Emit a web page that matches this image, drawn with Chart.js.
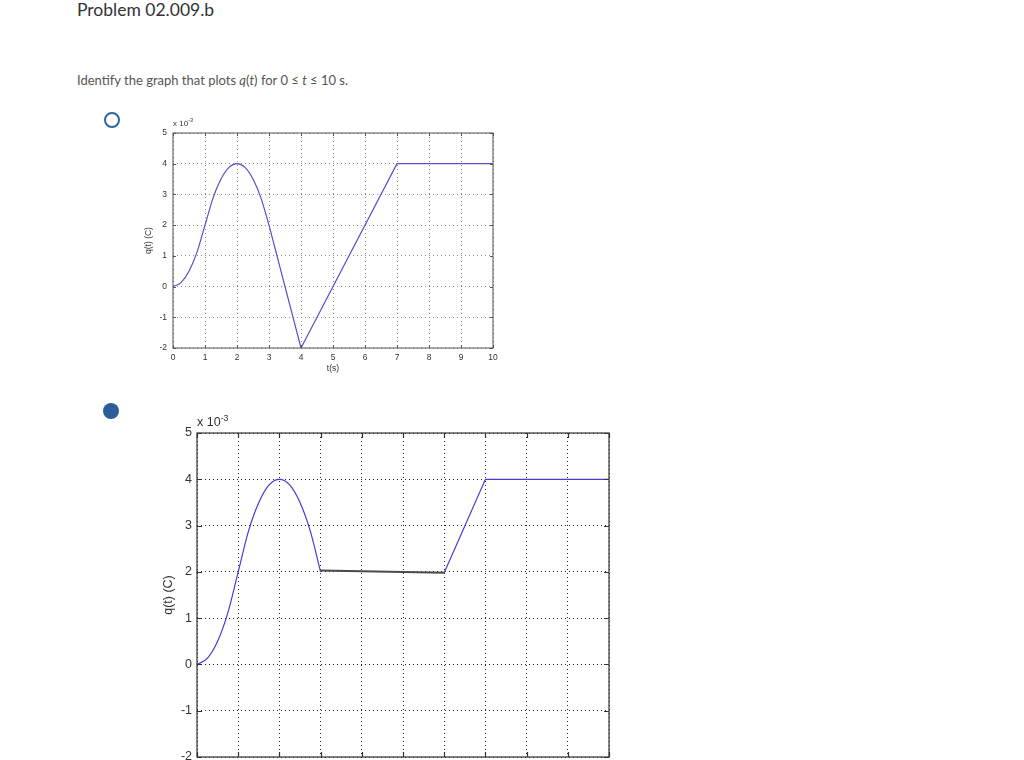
<!DOCTYPE html>
<html>
<head>
<meta charset="utf-8">
<script src="https://cdn.jsdelivr.net/npm/chart.js@4/dist/chart.umd.min.js"></script>
<style>
    html, body { margin: 0; padding: 0; background: #fff; overflow: hidden; }
    body { width: 1024px; height: 760px; position: relative; font-family: 'Lato', 'Open Sans', sans-serif; }
    .title { position: absolute; left: 77px; top: -1px; font-size: 17.5px; color: #333; }
    .prompt { position: absolute; left: 77px; top: 72px; font-size: 13px; color: #555; }
    .radio { position: absolute; width: 16px; height: 16px; border-radius: 50%; box-sizing: border-box; }
    .radio.off { left: 104px; top: 112px; border: 2.5px solid #2f63a6; }
    .radio.on { left: 103px; top: 403px; background: #2b5c9c; }
    .box { position: absolute; }
    .box canvas { display: block; }
    .mult { position: absolute; font-family: 'Liberation Sans', Arial, sans-serif; color: #333; white-space: nowrap; }
    .mult sup { font-size: 70%; }
</style>
</head>
<body>
<div class="title">Problem 02.009.b</div>
<div class="prompt">Identify the graph that plots <i>q</i>(<i>t</i>) for 0 ≤ <i>t</i> ≤ 10 s.</div>

<div class="radio off"></div>
<div class="box" style="left:130px; top:112px; width:380px; height:270px;"><canvas id="chartA"></canvas></div>
<div class="mult" style="left:173px; top:117px; font-size:8px;">x 10<sup>-3</sup></div>

<div class="radio on"></div>
<div class="box" style="left:140px; top:405px; width:490px; height:400px;"><canvas id="chartB"></canvas></div>
<div class="mult" style="left:197px; top:413px; font-size:12.5px;">x 10<sup>-3</sup></div>

<script>
// ---------- Data (charge in units of 10^-3 C) ----------
// smooth part, same for both options
const curveTime = [0, 0.25, 0.5, 0.75, 1, 1.25, 1.5, 1.75, 2, 2.25, 2.5, 2.75, 3];
const curveCharge = [0, 0.13, 0.5, 1.12, 2, 2.88, 3.5, 3.88, 4, 3.88, 3.5, 2.88, 2];

// straight pieces after t = 3 s
const lineTimeA = [3, 4, 7, 10];
const lineChargeA = [2, -2, 4, 4];

const lineTimeB = [3, 6, 7, 10];
const lineChargeB = [2.03, 1.98, 4, 4];

const xTicks = [0, 1, 2, 3, 4, 5, 6, 7, 8, 9, 10];
const yTicks = [-2, -1, 0, 1, 2, 3, 4, 5];

// ---------- Frame + inward ticks (MATLAB look) ----------
const matlabFrame = {
    id: 'matlabFrame',
    afterDraw(chart, args, opts) {
        const { ctx, chartArea: a, scales } = chart;
        const len = opts.tickLen || 4;
        ctx.save();
        ctx.strokeStyle = opts.color || '#333';
        ctx.lineWidth = opts.width || 1;
        ctx.beginPath();
        xTicks.forEach(v => {
            const px = Math.round(scales.x.getPixelForValue(v)) + 0.5;
            ctx.moveTo(px, a.bottom); ctx.lineTo(px, a.bottom - len);
            ctx.moveTo(px, a.top); ctx.lineTo(px, a.top + len);
        });
        yTicks.forEach(v => {
            const py = Math.round(scales.y.getPixelForValue(v)) + 0.5;
            ctx.moveTo(a.left, py); ctx.lineTo(a.left + len, py);
            ctx.moveTo(a.right, py); ctx.lineTo(a.right - len, py);
        });
        ctx.stroke();
        ctx.strokeRect(a.left, a.top, a.right - a.left, a.bottom - a.top);
        ctx.restore();
    },
};

const toPoints = (ts, vs) => ts.map((t, i) => ({ x: t, y: vs[i] }));

function makeChart(id, lineTime, lineCharge, cfg) {
    const canvas = document.getElementById(id);
    const font = { family: "'Liberation Sans', Arial, sans-serif", size: cfg.fontSize };

    return new Chart(canvas, {
        type: 'line',
        data: {
            datasets: [
                {
                    data: toPoints(curveTime, curveCharge),
                    borderColor: cfg.lineColor,
                    borderWidth: cfg.lineWidth,
                    pointRadius: 0,
                    cubicInterpolationMode: 'monotone',
                    fill: false,
                },
                {
                    data: toPoints(lineTime, lineCharge),
                    borderColor: cfg.lineColor,
                    borderWidth: cfg.lineWidth,
                    pointRadius: 0,
                    tension: 0,
                    fill: false,
                    segment: cfg.segment || {},
                },
            ],
        },
        options: {
            responsive: true,
            maintainAspectRatio: false,
            animation: false,
            layout: { padding: { top: cfg.padTop, right: cfg.padRight, left: 0, bottom: 0 } },
            plugins: {
                legend: { display: false },
                tooltip: { enabled: false },
                matlabFrame: { tickLen: cfg.tickLen, color: cfg.frameColor, width: cfg.frameWidth },
            },
            scales: {
                x: {
                    type: 'linear',
                    min: 0,
                    max: 10,
                    afterBuildTicks: s => { s.ticks = xTicks.map(v => ({ value: v })); },
                    afterFit: s => { s.height = cfg.xHeight; },
                    grid: { color: cfg.gridColor, lineWidth: 1, drawTicks: false },
                    border: { display: false, dash: [1, 3] },
                    ticks: { color: '#333', font, padding: cfg.xPad, maxRotation: 0 },
                    title: { display: true, text: 't(s)', color: '#333', font, padding: { bottom: cfg.xTitlePad, top: 0 } },
                },
                y: {
                    min: -2,
                    max: 5,
                    afterBuildTicks: s => { s.ticks = yTicks.map(v => ({ value: v })); },
                    afterFit: s => { s.width = cfg.yWidth; },
                    grid: { color: cfg.gridColor, lineWidth: 1, drawTicks: false },
                    border: { display: false, dash: [1, 3] },
                    ticks: { color: '#333', font, padding: cfg.yPad },
                    title: { display: true, text: 'q(t) (C)', color: '#333', font, padding: { top: cfg.yTitlePad, bottom: 0 } },
                },
            },
        },
        plugins: [matlabFrame],
    });
}

makeChart('chartA', lineTimeA, lineChargeA, {
    fontSize: 8.5,
    lineColor: '#5a50c8',
    lineWidth: 1.2,
    padTop: 21,
    padRight: 17,
    xHeight: 34,
    yWidth: 43,
    xPad: 5,
    yPad: 6,
    xTitlePad: 8,
    yTitlePad: 14,
    tickLen: 3,
    gridColor: '#8a8a8a',
    frameColor: '#555',
    frameWidth: 1,
});

makeChart('chartB', lineTimeB, lineChargeB, {
    fontSize: 12.5,
    lineColor: '#4a3ccc',
    lineWidth: 1.2,
    segment: {
        borderColor: c => (c.p0.parsed.x >= 3 && c.p1.parsed.x <= 6 ? '#4a4a4a' : undefined),
        borderWidth: c => (c.p0.parsed.x >= 3 && c.p1.parsed.x <= 6 ? 2 : undefined),
    },
    padTop: 28,
    padRight: 21,
    xHeight: 48,
    yWidth: 57,
    xPad: 6,
    yPad: 5,
    xTitlePad: 6,
    yTitlePad: 21,
    tickLen: 5,
    gridColor: '#222',
    frameColor: '#333',
    frameWidth: 1.2,
});
</script>
</body>
</html>
